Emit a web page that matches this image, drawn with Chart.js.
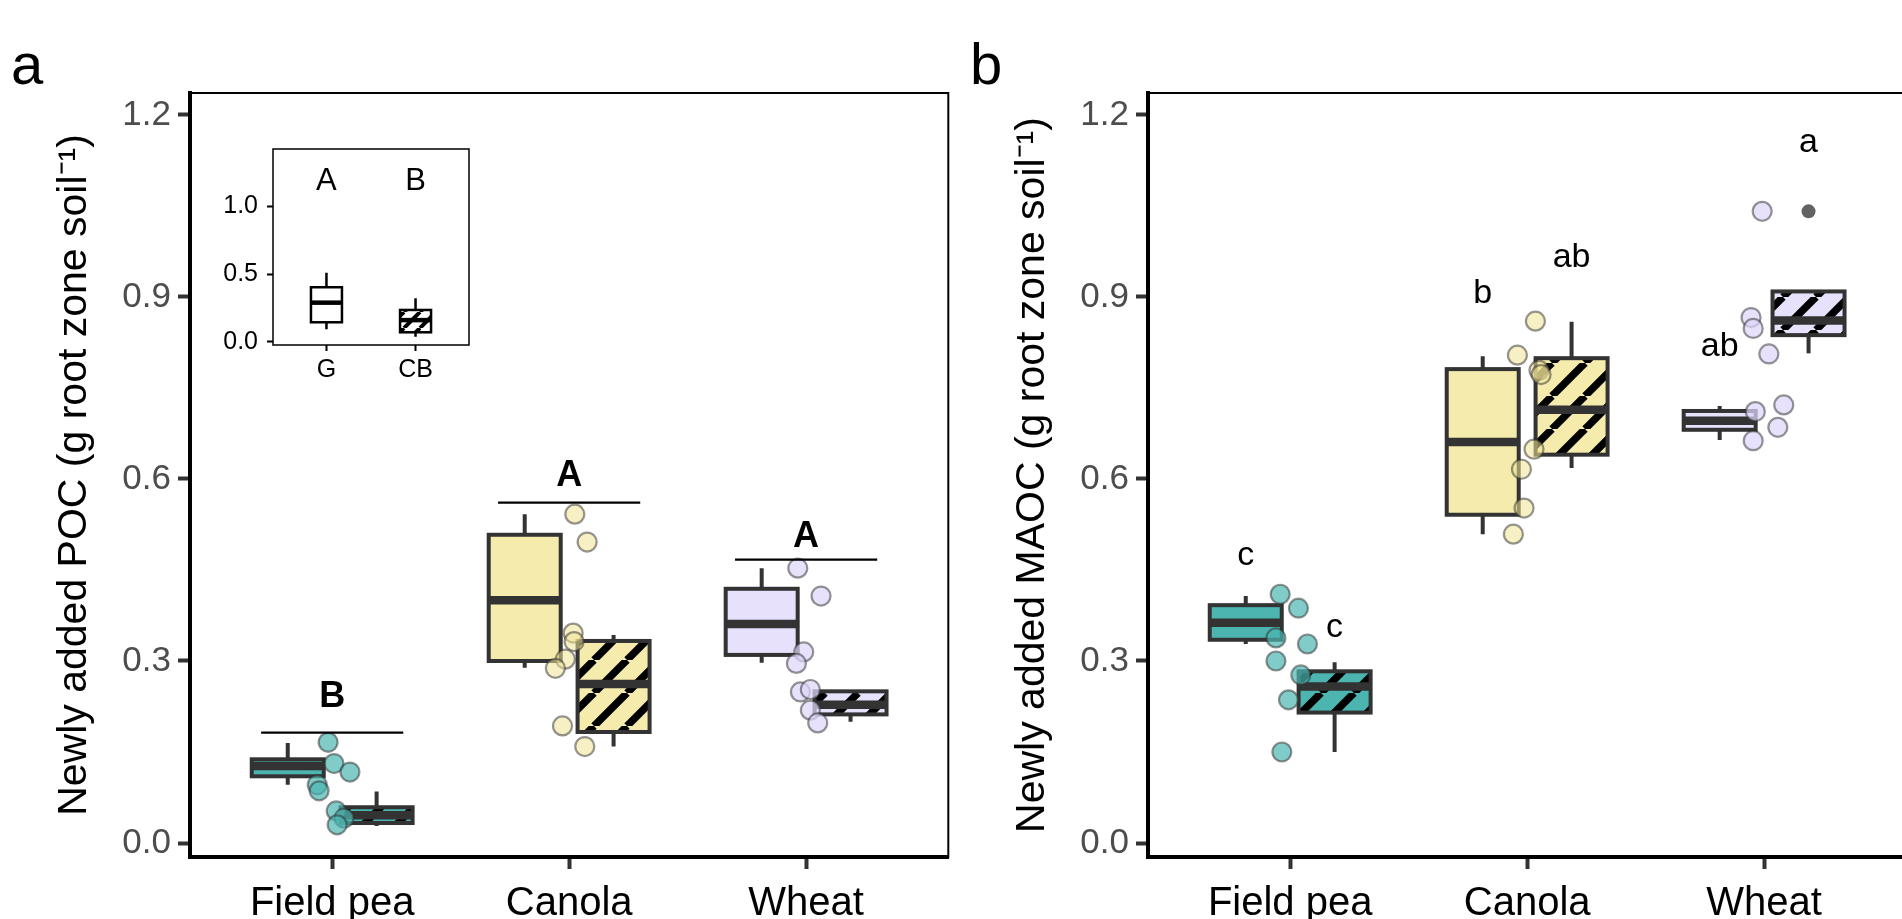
<!DOCTYPE html>
<html>
<head>
<meta charset="utf-8">
<title>Newly added POC and MAOC</title>
<script src="https://cdn.jsdelivr.net/npm/chart.js@4.4.1/dist/chart.umd.min.js"></script>
<style>
  html, body { margin: 0; padding: 0; background: #fff; }
  body { width: 1902px; height: 919px; overflow: hidden; position: relative; font-family: 'Liberation Sans', Arial, sans-serif; }
  canvas { position: absolute; top: 0; }
  .tag { position: absolute; font-size: 58px; line-height: 1; color: #000; }
</style>
</head>
<body>
<div class="tag" style="left:11px; top:35px;">a</div>
<div class="tag" style="left:970px; top:35px;">b</div>
<canvas id="pocChart" width="960" height="919" style="left:0;"></canvas>
<canvas id="maocChart" width="960" height="919" style="left:958px;"></canvas>
<canvas id="insetChart" width="300" height="270" style="left:180px; top:120px;"></canvas>

<script>
Chart.defaults.font.family = "'Liberation Sans', Arial, Helvetica, sans-serif";
Chart.defaults.animation = false;

const crops = ['Field pea', 'Canola', 'Wheat'];
const yTicks = [0, 0.3, 0.6, 0.9, 1.2];

// box stats: [lower whisker, Q1, median, Q3, upper whisker]
const pocG = [[0.096, 0.110, 0.127, 0.138, 0.165], [0.289, 0.300, 0.400, 0.508, 0.542], [0.297, 0.310, 0.361, 0.419, 0.453]];
const pocCB = [[0.028, 0.033, 0.046, 0.059, 0.085], [0.159, 0.183, 0.262, 0.333, 0.343], [0.200, 0.212, 0.228, 0.250, 0.252]];
const maocG = [[0.328, 0.335, 0.363, 0.392, 0.407], [0.509, 0.541, 0.661, 0.781, 0.802], [0.664, 0.681, 0.696, 0.712, 0.720]];
const maocCB = [[0.150, 0.215, 0.258, 0.283, 0.298], [0.618, 0.640, 0.714, 0.799, 0.859], [0.807, 0.837, 0.861, 0.909, 0.909]];
const maocOutliersCB = [null, null, 1.041];

// single samples (both treatments) and their jitter in category units
const pocPts = [
    [0.166, 0.131, 0.117, 0.096, 0.086, 0.053, 0.041, 0.030],
    [0.542, 0.496, 0.346, 0.332, 0.303, 0.288, 0.193, 0.159],
    [0.453, 0.407, 0.315, 0.296, 0.249, 0.253, 0.219, 0.198]
];
const pocJitter = [
    [-0.017, 0.008, 0.075, -0.063, -0.055, 0.017, 0.050, 0.021],
    [0.024, 0.076, 0.017, 0.021, -0.016, -0.058, -0.028, 0.066],
    [-0.035, 0.063, -0.010, -0.041, -0.024, 0.018, 0.018, 0.049]
];
const maocPts = [
    [0.410, 0.387, 0.338, 0.328, 0.300, 0.277, 0.236, 0.150],
    [0.860, 0.804, 0.779, 0.772, 0.649, 0.616, 0.552, 0.509],
    [1.041, 0.866, 0.848, 0.806, 0.722, 0.711, 0.685, 0.663]
];
const maocJitter = [
    [-0.042, 0.035, -0.060, 0.073, -0.060, 0.045, -0.007, -0.035],
    [0.035, -0.041, 0.050, 0.059, 0.029, -0.024, -0.013, -0.058],
    [-0.008, -0.055, -0.046, 0.020, 0.083, -0.037, 0.058, -0.046]
];

// significance letters
const pocLetters = ['B', 'A', 'A'];
const pocLetterY = [0.240, 0.604, 0.505];
const pocLineY = [0.182, 0.561, 0.467];
const maocLettersG = ['c', 'b', 'ab'];
const maocLetterYG = [0.474, 0.906, 0.818];
const maocLettersCB = ['c', 'ab', 'a'];
const maocLetterYCB = [0.355, 0.964, 1.155];

// inset (G vs CB, POC)
const insetCats = ['G', 'CB'];
const insetTicks = [0, 0.5, 1.0];
const insetBox = [[0.092, 0.144, 0.289, 0.403, 0.511], [0.037, 0.070, 0.160, 0.235, 0.321]];
const insetLetters = ['A', 'B'];
const insetLetterY = [1.185, 1.185];

const DODGE = 0.1875;
const cropFill = ['#4cb5b0', '#f4ebad', '#e7e1fb'];
const cropPoint = ['rgba(76,181,176,0.7)', 'rgba(240,228,150,0.55)', 'rgba(222,214,250,0.72)'];

function hatch(bg, size, lw) {
    const c = document.createElement('canvas');
    c.width = size;
    c.height = size;
    const g = c.getContext('2d');
    g.fillStyle = bg;
    g.fillRect(0, 0, size, size);
    g.strokeStyle = '#000';
    g.lineWidth = lw;
    g.beginPath();
    for (let k = -1; k <= 1; k++) {
        g.moveTo(k * size, size);
        g.lineTo(k * size + size, 0);
    }
    g.stroke();
    return g.createPattern(c, 'repeat');
}

const cropHatch = cropFill.map(c => hatch(c, 33, 7.5));

// whiskers, box outlines, medians, letters and frame
const boxPlugin = {
    id: 'boxes',
    beforeDatasetsDraw(chart, args, opts) {
        const ctx = chart.ctx, y = chart.scales.y;
        ctx.save();
        ctx.strokeStyle = opts.color;
        ctx.lineWidth = opts.line;
        chart.data.datasets.forEach((ds, di) => {
            if (!ds.stats) return;
            chart.getDatasetMeta(di).data.forEach((bar, i) => {
                const s = ds.stats[i];
                ctx.beginPath();
                ctx.moveTo(bar.x, y.getPixelForValue(s[4]));
                ctx.lineTo(bar.x, y.getPixelForValue(s[3]));
                ctx.moveTo(bar.x, y.getPixelForValue(s[1]));
                ctx.lineTo(bar.x, y.getPixelForValue(s[0]));
                ctx.stroke();
            });
        });
        ctx.restore();
    },
    afterDatasetDraw(chart, args, opts) {
        const ds = chart.data.datasets[args.index];
        if (!ds.stats) return;
        const ctx = chart.ctx, y = chart.scales.y;
        ctx.save();
        ctx.strokeStyle = opts.color;
        args.meta.data.forEach((bar, i) => {
            const half = bar.width / 2;
            ctx.lineWidth = opts.line;
            ctx.strokeRect(bar.x - half, bar.y, bar.width, bar.base - bar.y);
            const m = y.getPixelForValue(ds.stats[i][2]);
            ctx.lineWidth = opts.median;
            ctx.beginPath();
            ctx.moveTo(bar.x - half, m);
            ctx.lineTo(bar.x + half, m);
            ctx.stroke();
        });
        ctx.restore();
    },
    afterDatasetsDraw(chart, args, opts) {
        const {ctx, chartArea: a} = chart;
        const x = chart.scales.x, y = chart.scales.y;
        ctx.save();
        ctx.strokeStyle = '#000';
        ctx.lineWidth = opts.frame;
        ctx.strokeRect(a.left, a.top, a.right - a.left, a.bottom - a.top);
        ctx.lineWidth = 2.2;
        (opts.lines || []).forEach(l => {
            const py = y.getPixelForValue(l.y);
            ctx.beginPath();
            ctx.moveTo(x.getPixelForValue(l.x0), py);
            ctx.lineTo(x.getPixelForValue(l.x1), py);
            ctx.stroke();
        });
        ctx.fillStyle = '#000';
        ctx.font = opts.font;
        ctx.textAlign = 'center';
        ctx.textBaseline = 'middle';
        (opts.letters || []).forEach(t => {
            ctx.fillText(t.text, x.getPixelForValue(t.x), y.getPixelForValue(t.y));
        });
        ctx.restore();
    }
};

function boxDataset(stats, offset, colors, order) {
    return {
        type: 'bar',
        order: order,
        stats: stats,
        data: stats.map((s, i) => ({x: i + 1 + offset, y: [s[1], s[3]]})),
        backgroundColor: colors,
        borderWidth: 0,
        barThickness: 72,
        grouped: false
    };
}

function pointDatasets(pts, jitter) {
    return pts.map((vals, i) => ({
        type: 'scatter',
        order: 0,
        data: vals.map((v, j) => ({x: i + 1 + jitter[i][j], y: v})),
        pointRadius: 9.5,
        pointBorderWidth: 2.2,
        backgroundColor: cropPoint[i],
        borderColor: 'rgba(45,45,45,0.5)',
        pointBackgroundColor: cropPoint[i],
        pointBorderColor: 'rgba(45,45,45,0.5)'
    }));
}

function mainChart(id, title, gStats, cbStats, pts, jitter, extraSets, marks) {
    const datasets = pointDatasets(pts, jitter).concat(extraSets);
    datasets.push(boxDataset(gStats, -DODGE, cropFill, 2));
    datasets.push(boxDataset(cbStats, DODGE, cropHatch, 1));

    return new Chart(document.getElementById(id), {
        type: 'bar',
        data: {datasets: datasets},
        plugins: [boxPlugin],
        options: {
            responsive: false,
            devicePixelRatio: 1,
            layout: {padding: {left: 0, top: 93, right: 8, bottom: 0}},
            plugins: {
                legend: {display: false},
                tooltip: {enabled: false},
                boxes: Object.assign({color: '#333', line: 4, median: 8.5, frame: 2}, marks)
            },
            scales: {
                x: {
                    type: 'linear', min: 0.4, max: 3.6, offset: false,
                    afterBuildTicks: ax => { ax.ticks = crops.map((c, i) => ({value: i + 1})); },
                    afterFit: ax => { ax.height = 62; },
                    ticks: {callback: v => crops[Math.round(v) - 1], color: '#000', font: {size: 40}, padding: 11, maxRotation: 0, autoSkip: false},
                    grid: {drawOnChartArea: false, offset: false, tickLength: 12, tickWidth: 4, tickColor: '#333'},
                    border: {display: true, color: '#000', width: 4}
                },
                y: {
                    min: -0.023, max: 1.236,
                    afterBuildTicks: ax => { ax.ticks = yTicks.map(v => ({value: v})); },
                    afterFit: ax => { ax.width = 190; },
                    ticks: {callback: v => Number(v).toFixed(1), color: '#4d4d4d', font: {size: 35}, padding: 7},
                    grid: {drawOnChartArea: false, tickLength: 12, tickWidth: 4, tickColor: '#333'},
                    border: {display: true, color: '#000', width: 4},
                    title: {display: true, text: title, color: '#000', font: {size: 41}, padding: {top: 50, bottom: 0}}
                }
            }
        }
    });
}

// panel a: POC
mainChart('pocChart', 'Newly added POC (g root zone soil\u207B\u00B9)', pocG, pocCB, pocPts, pocJitter, [], {
    font: "bold 36px 'Liberation Sans', Arial, sans-serif",
    letters: pocLetters.map((t, i) => ({text: t, x: i + 1, y: pocLetterY[i]})),
    lines: pocLineY.map((v, i) => ({x0: i + 0.7, x1: i + 1.3, y: v}))
});

// panel b: MAOC
const outlierSet = {
    type: 'scatter',
    order: 0,
    data: maocOutliersCB.map((v, i) => v === null ? null : {x: i + 1 + DODGE, y: v}).filter(p => p),
    pointRadius: 7,
    pointBorderWidth: 0,
    backgroundColor: 'rgba(60,60,60,0.8)',
    pointBackgroundColor: 'rgba(60,60,60,0.8)'
};
mainChart('maocChart', 'Newly added MAOC (g root zone soil\u207B\u00B9)', maocG, maocCB, maocPts, maocJitter, [outlierSet], {
    font: "34px 'Liberation Sans', Arial, sans-serif",
    letters: maocLettersG.map((t, i) => ({text: t, x: i + 1 - DODGE, y: maocLetterYG[i]}))
        .concat(maocLettersCB.map((t, i) => ({text: t, x: i + 1 + DODGE, y: maocLetterYCB[i]})))
});

// inset
new Chart(document.getElementById('insetChart'), {
    type: 'bar',
    data: {
        datasets: [{
            type: 'bar',
            stats: insetBox,
            data: insetBox.map((s, i) => ({x: i + 1, y: [s[1], s[3]]})),
            backgroundColor: ['#fff', hatch('#fff', 16, 4)],
            borderWidth: 0,
            barThickness: 31,
            grouped: false
        }]
    },
    plugins: [boxPlugin],
    options: {
        responsive: false,
        devicePixelRatio: 1,
        layout: {padding: {left: 0, top: 29, right: 11, bottom: 0}},
        plugins: {
            legend: {display: false},
            tooltip: {enabled: false},
            boxes: {
                color: '#000', line: 2.5, median: 4.5, frame: 1.5,
                font: "31px 'Liberation Sans', Arial, sans-serif",
                letters: insetLetters.map((t, i) => ({text: t, x: i + 1, y: insetLetterY[i]}))
            }
        },
        scales: {
            x: {
                type: 'linear', min: 0.4, max: 2.6, offset: false,
                afterBuildTicks: ax => { ax.ticks = insetCats.map((c, i) => ({value: i + 1})); },
                afterFit: ax => { ax.height = 45; },
                ticks: {callback: v => insetCats[Math.round(v) - 1], color: '#000', font: {size: 25}, padding: 4, maxRotation: 0, autoSkip: false},
                grid: {drawOnChartArea: false, offset: false, tickLength: 6, tickWidth: 2, tickColor: '#000'},
                border: {display: false}
            },
            y: {
                min: -0.024, max: 1.425,
                afterBuildTicks: ax => { ax.ticks = insetTicks.map(v => ({value: v})); },
                afterFit: ax => { ax.width = 93; },
                ticks: {callback: v => Number(v).toFixed(1), color: '#000', font: {size: 25}, padding: 9},
                grid: {drawOnChartArea: false, tickLength: 6, tickWidth: 2, tickColor: '#000'},
                border: {display: false}
            }
        }
    }
});
</script>
</body>
</html>
